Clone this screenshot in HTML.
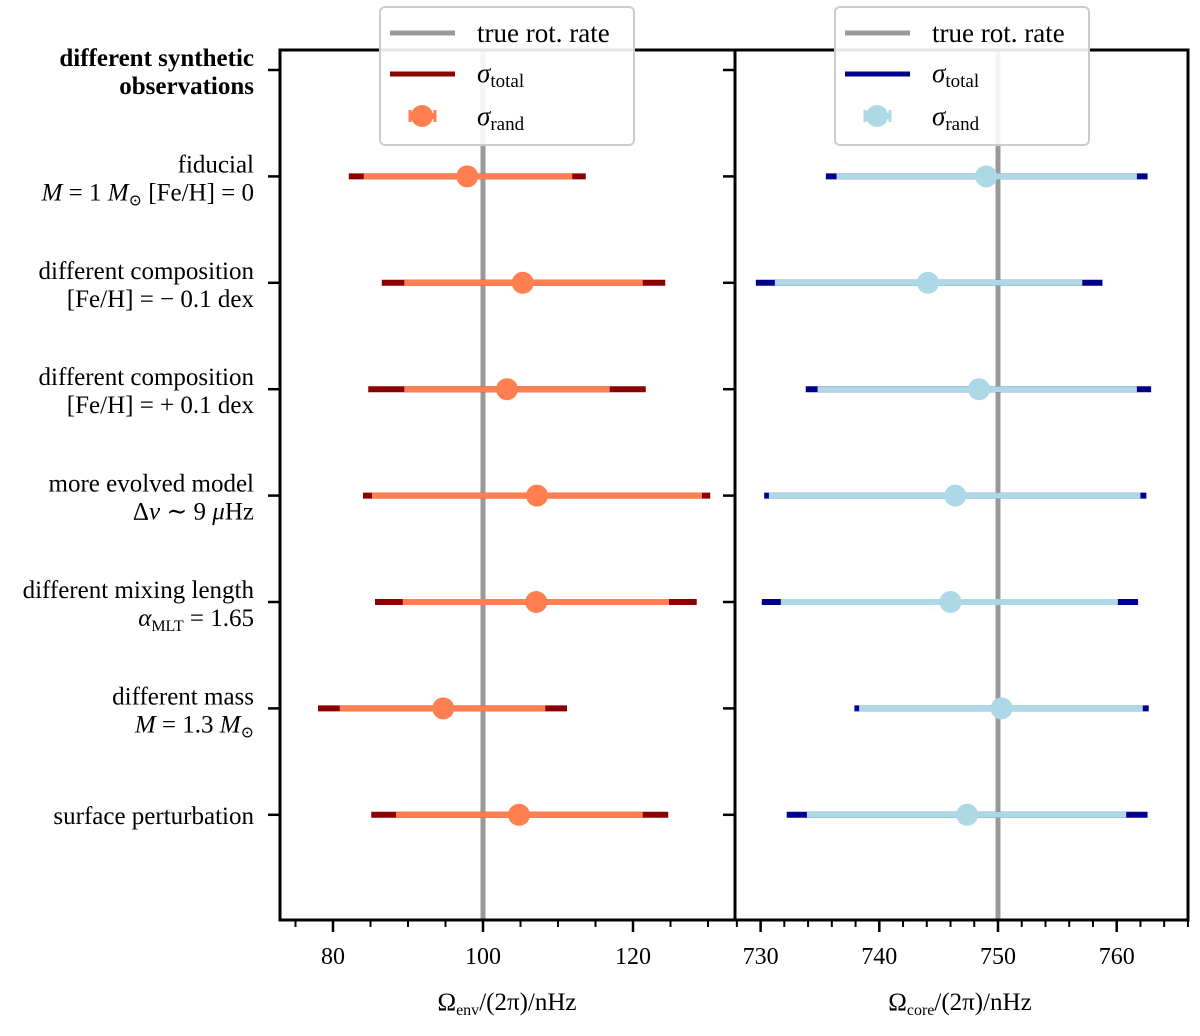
<!DOCTYPE html>
<html><head><meta charset="utf-8">
<style>
html,body{margin:0;padding:0;background:#fff;}
svg text{font-family:"Liberation Serif","DejaVu Serif",serif;fill:#000;}
</style></head>
<body>
<svg id="chart" width="1200" height="1031" xmlns="http://www.w3.org/2000/svg"></svg>
<script>
const rowLabels1 = ["different synthetic","fiducial","different composition","different composition","more evolved model","different mixing length","different mass","surface perturbation"];
const rowLabels2 = ["observations","<tspan font-style='italic'>M</tspan> = 1 <tspan font-style='italic'>M</tspan><tspan font-size='16' dy='5'>⊙</tspan><tspan dy='-5'> [Fe/H] = 0</tspan>","[Fe/H] = − 0.1 dex","[Fe/H] = + 0.1 dex","Δ<tspan font-style='italic'>ν</tspan> ∼ 9 <tspan font-style='italic'>μ</tspan>Hz","<tspan font-style='italic'>α</tspan><tspan font-size='16' dy='5'>MLT</tspan><tspan dy='-5'> = 1.65</tspan>","<tspan font-style='italic'>M</tspan> = 1.3 <tspan font-style='italic'>M</tspan><tspan font-size='16' dy='5'>⊙</tspan>",""];
const envValue = [97.9,105.3,103.2,107.2,107.1,94.7,104.8];
const envTotLo = [82.1,86.5,84.7,84.0,85.6,78.0,85.1];
const envTotHi = [113.7,124.3,121.7,130.3,128.5,111.2,124.7];
const envRandLo = [84.1,89.5,89.5,85.2,89.3,80.9,88.4];
const envRandHi = [111.9,121.3,116.9,129.2,124.8,108.3,121.3];
const coreValue = [749.0,744.1,748.4,746.4,746.0,750.3,747.4];
const coreTotLo = [735.5,729.6,733.8,730.3,730.1,737.9,732.2];
const coreTotHi = [762.6,758.8,762.9,762.5,761.8,762.7,762.6];
const coreRandLo = [736.4,731.2,734.8,730.7,731.7,738.3,733.9];
const coreRandHi = [761.7,757.1,761.7,762.0,760.1,762.2,760.8];
const envTicks = [80,100,120];
const coreTicks = [730,740,750,760];
const envTrue = 100, coreTrue = 750;

const NS="http://www.w3.org/2000/svg";
const svg=document.getElementById('chart');
function el(tag,attrs,parent){const e=document.createElementNS(NS,tag);for(const k in attrs)e.setAttribute(k,attrs[k]);(parent||svg).appendChild(e);return e;}

const yTop=50,yBot=920;
const yRow=i=>70+i*106.4;
const xEnv=v=>483+(v-100)*7.5;
const xCore=v=>998+(v-750)*11.87;

function panel(x0,x1,name){
  const r=el('rect',{x:x0,y:yTop,width:x1-x0,height:yBot-yTop,fill:'none',stroke:'#000','stroke-width':3});
  
  
}

let l=el('line',{x1:xEnv(envTrue),x2:xEnv(envTrue),y1:yTop,y2:yBot,stroke:'#999','stroke-width':5});


l=el('line',{x1:xCore(coreTrue),x2:xCore(coreTrue),y1:yTop,y2:yBot,stroke:'#999','stroke-width':5});



function series(xf,val,tlo,thi,rlo,rhi,tc,rc,prefix){
  for(let i=0;i<val.length;i++){
    const y=yRow(i+1);
    const g=el('g',{});
    
    
    el('line',{x1:xf(tlo[i]),x2:xf(thi[i]),y1:y,y2:y,stroke:tc,'stroke-width':6},g);
    el('line',{x1:xf(rlo[i]),x2:xf(rhi[i]),y1:y,y2:y,stroke:rc,'stroke-width':6},g);
    const c=el('circle',{cx:xf(val[i]),cy:y,r:11,fill:rc},g);
    
    
  }
}
series(xEnv,envValue,envTotLo,envTotHi,envRandLo,envRandHi,'#8b0000','#ff7f50','env');
series(xCore,coreValue,coreTotLo,coreTotHi,coreRandLo,coreRandHi,'#00008b','#add8e6','core');

panel(280,735,'env-panel');
panel(735,1188,'core-panel');

for(let i=0;i<8;i++){
  const y=yRow(i);
  el('line',{x1:268,x2:280,y1:y,y2:y,stroke:'#000','stroke-width':2.5});
  el('line',{x1:723,x2:735,y1:y,y2:y,stroke:'#000','stroke-width':2.5});
  const bold=i===0;
  let t=el('text',{x:254,y:y-4-(i===7?-13:0),'text-anchor':'end','font-size':25,'font-weight':bold?'bold':'normal'});
  t.textContent=rowLabels1[i];
  
  
  if(rowLabels2[i]){
    t=el('text',{x:254,y:y+24,'text-anchor':'end','font-size':25,'font-weight':bold?'bold':'normal'});
    t.innerHTML=rowLabels2[i];
    
    
  }
}

function xticks(xf,ticks,minorStep,lo,hi,prefix){
  for(let v=Math.ceil(lo/minorStep)*minorStep;v<=hi;v+=minorStep){
    const x=xf(v);
    el('line',{x1:x,x2:x,y1:yBot,y2:yBot+7,stroke:'#000','stroke-width':2});
  }
  ticks.forEach(v=>{
    const x=xf(v);
    el('line',{x1:x,x2:x,y1:yBot,y2:yBot+12,stroke:'#000','stroke-width':2.5});
    const t=el('text',{x:x,y:yBot+44,'text-anchor':'middle','font-size':24});
    t.textContent=v;
    
    
  });
}
xticks(xEnv,envTicks,5,73,133,'env');
xticks(xCore,coreTicks,2,728,766,'core');

let t=el('text',{x:507,y:1010,'text-anchor':'middle','font-size':25});
t.innerHTML='Ω<tspan font-size="16" dy="5">env</tspan><tspan dy="-5">/(2π)/nHz</tspan>';


t=el('text',{x:960,y:1010,'text-anchor':'middle','font-size':25});
t.innerHTML='Ω<tspan font-size="16" dy="5">core</tspan><tspan dy="-5">/(2π)/nHz</tspan>';



function legend(x0,tc,rc,name){
  const g=el('g',{});
  
  
  el('rect',{x:x0,y:7,width:254,height:138,rx:5,fill:'#fff','fill-opacity':0.9,stroke:'#ccc','stroke-width':2},g);
  el('line',{x1:x0+10,x2:x0+75,y1:33,y2:33,stroke:'#999','stroke-width':5},g);
  el('line',{x1:x0+10,x2:x0+75,y1:74,y2:74,stroke:tc,'stroke-width':5},g);
  el('line',{x1:x0+30,x2:x0+55,y1:116,y2:116,stroke:rc,'stroke-width':6},g);
  el('line',{x1:x0+30,x2:x0+30,y1:110,y2:122,stroke:rc,'stroke-width':3},g);
  el('line',{x1:x0+55,x2:x0+55,y1:110,y2:122,stroke:rc,'stroke-width':3},g);
  el('circle',{cx:x0+42,cy:116,r:11,fill:rc},g);
  let a=el('text',{x:x0+97,y:42,'font-size':27},g);a.textContent='true rot. rate';
  a=el('text',{x:x0+97,y:82,'font-size':27},g);a.innerHTML='<tspan font-style="italic">σ</tspan><tspan font-size="19" dy="5">total</tspan>';
  a=el('text',{x:x0+97,y:125,'font-size':27},g);a.innerHTML='<tspan font-style="italic">σ</tspan><tspan font-size="19" dy="5">rand</tspan>';
}
legend(380,'#8b0000','#ff7f50','env-legend');
legend(835,'#00008b','#add8e6','core-legend');
</script>
</body></html>
